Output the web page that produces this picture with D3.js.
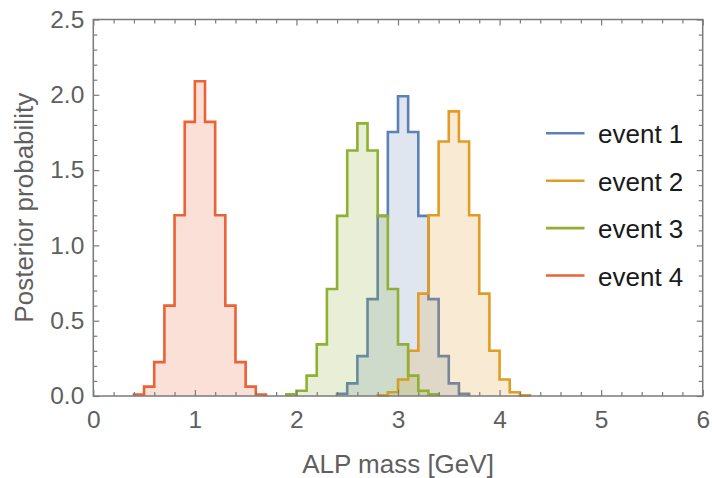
<!DOCTYPE html>
<html>
<head>
<meta charset="utf-8">
<script src="https://cdn.jsdelivr.net/npm/d3@7"></script>
<style>
  html, body { margin: 0; padding: 0; background: #fff; }
  svg { display: block; }
  text { font-family: "Liberation Sans", Arial, Helvetica, sans-serif; }
</style>
</head>
<body>
<svg id="chart" width="712" height="478"></svg>
<script>
// Posterior histograms of the ALP mass, bin width 0.1 GeV
const seriesNames = ["event 1", "event 2", "event 3", "event 4"];
const seriesColors = ["#5E81B5", "#E19C24", "#8FB032", "#EB6235"];
const binWidth = 0.1;

const event1Start = 2.4;
const event1 = [0.015, 0.084, 0.265, 0.643, 1.196, 1.753, 1.99, 1.753, 1.196, 0.643, 0.265, 0.084, 0.015];

const event2Start = 2.8;
const event2 = [0.004, 0.025, 0.11, 0.30, 0.68, 1.2, 1.69, 1.89, 1.69, 1.2, 0.68, 0.30, 0.11, 0.025, 0.004];

const event3Start = 1.9;
const event3 = [0.011, 0.035, 0.135, 0.343, 0.71, 1.196, 1.63, 1.81, 1.63, 1.196, 0.71, 0.343, 0.135, 0.035, 0.011];

const event4Start = 0.4;
const event4 = [0.01, 0.062, 0.225, 0.6, 1.2, 1.82, 2.09, 1.82, 1.2, 0.6, 0.225, 0.062, 0.01];

const xMajorTicks = [0, 1, 2, 3, 4, 5, 6];
const yMajorTicks = [0, 0.5, 1.0, 1.5, 2.0, 2.5];

const xTitle = "ALP mass [GeV]";
const yTitle = "Posterior probability";

const series = [
  { name: seriesNames[0], start: event1Start, values: event1, color: seriesColors[0] },
  { name: seriesNames[1], start: event2Start, values: event2, color: seriesColors[1] },
  { name: seriesNames[2], start: event3Start, values: event3, color: seriesColors[2] },
  { name: seriesNames[3], start: event4Start, values: event4, color: seriesColors[3] }
];

const svg = d3.select("#chart");
const plotLeft = 93.3, plotRight = 702.7, plotTop = 19.5, plotBottom = 396;

const x = d3.scaleLinear().domain([0, 6]).range([plotLeft, plotRight]);
const y = d3.scaleLinear().domain([0, 2.5]).range([plotBottom, plotTop]);

const axisColor = "#7a7a7a";
const labelColor = "#5f5f5f";

// Histogram fills and step outlines
const plot = svg.append("g");
series.forEach(s => {
  const pts = [];
  const x0 = s.start;
  pts.push([x0, 0]);
  s.values.forEach((v, i) => {
    const a = x0 + i * binWidth, b = x0 + (i + 1) * binWidth;
    pts.push([a, v]);
    pts.push([b, v]);
  });
  pts.push([x0 + s.values.length * binWidth, 0]);
  const line = d3.line().x(d => x(d[0])).y(d => y(d[1]));
  plot.append("path")
    .attr("d", line(pts) + "Z")
    .attr("fill", s.color)
    .attr("fill-opacity", 0.2)
    .attr("stroke", "none");
  plot.append("path")
    .attr("d", line(pts))
    .attr("fill", "none")
    .attr("stroke", s.color)
    .attr("stroke-width", 2.6)
    .attr("stroke-linejoin", "miter");
});

// Frame with inward ticks on all four sides
const xMinor = d3.range(0, 6.0001, 0.2).filter(v => Math.abs(v - Math.round(v)) > 1e-6);
const yMinor = d3.range(0, 2.5001, 0.1).filter(v => Math.abs(v * 2 - Math.round(v * 2)) > 1e-6);

function styleAxis(g) {
  g.select(".domain").remove();
  g.selectAll("line").attr("stroke", axisColor).attr("stroke-width", 1.2);
  g.selectAll("text").attr("fill", labelColor).attr("font-size", 24.5);
}

svg.append("g").attr("transform", `translate(0,${plotBottom})`)
  .call(d3.axisBottom(x).tickValues(xMajorTicks).tickSize(-6).tickPadding(15).tickFormat(d3.format("d")))
  .call(styleAxis);
svg.append("g").attr("transform", `translate(0,${plotBottom})`)
  .call(d3.axisBottom(x).tickValues(xMinor).tickSize(-4).tickFormat(""))
  .call(styleAxis);
svg.append("g").attr("transform", `translate(0,${plotTop})`)
  .call(d3.axisTop(x).tickValues(xMajorTicks).tickSize(-6).tickFormat(""))
  .call(styleAxis);
svg.append("g").attr("transform", `translate(0,${plotTop})`)
  .call(d3.axisTop(x).tickValues(xMinor).tickSize(-4).tickFormat(""))
  .call(styleAxis);

svg.append("g").attr("transform", `translate(${plotLeft},0)`)
  .call(d3.axisLeft(y).tickValues(yMajorTicks).tickSize(-6).tickPadding(9).tickFormat(d3.format(".1f")))
  .call(styleAxis);
svg.append("g").attr("transform", `translate(${plotLeft},0)`)
  .call(d3.axisLeft(y).tickValues(yMinor).tickSize(-4).tickFormat(""))
  .call(styleAxis);
svg.append("g").attr("transform", `translate(${plotRight},0)`)
  .call(d3.axisRight(y).tickValues(yMajorTicks).tickSize(-6).tickFormat(""))
  .call(styleAxis);
svg.append("g").attr("transform", `translate(${plotRight},0)`)
  .call(d3.axisRight(y).tickValues(yMinor).tickSize(-4).tickFormat(""))
  .call(styleAxis);

svg.append("rect")
  .attr("x", plotLeft).attr("y", plotTop)
  .attr("width", plotRight - plotLeft).attr("height", plotBottom - plotTop)
  .attr("fill", "none")
  .attr("stroke", axisColor)
  .attr("stroke-width", 1.5);

// Axis titles
svg.append("text")
  .attr("x", (plotLeft + plotRight) / 2).attr("y", 473)
  .attr("text-anchor", "middle")
  .attr("font-size", 26)
  .attr("fill", labelColor)
  .text(xTitle);

svg.append("text")
  .attr("transform", `translate(33,${(plotTop + plotBottom) / 2}) rotate(-90)`)
  .attr("text-anchor", "middle")
  .attr("font-size", 26)
  .attr("fill", labelColor)
  .text(yTitle);

// Legend
const legend = svg.append("g");
series.forEach((s, i) => {
  const ly = 133.3 + i * 47.4;
  legend.append("line")
    .attr("x1", 546).attr("x2", 584.5)
    .attr("y1", ly).attr("y2", ly)
    .attr("stroke", s.color)
    .attr("stroke-width", 2.6);
  legend.append("text")
    .attr("x", 598).attr("y", ly + 10)
    .attr("font-size", 26)
    .attr("fill", "#1a1a1a")
    .text(s.name);
});
</script>
</body>
</html>
